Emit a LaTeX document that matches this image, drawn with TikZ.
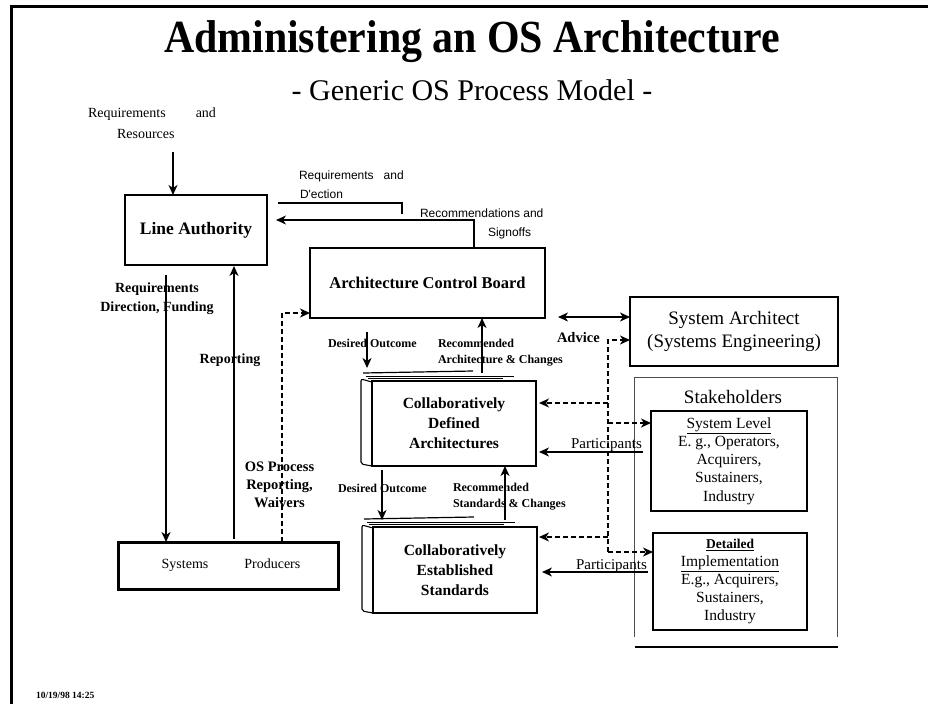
\documentclass[tikz,border=0pt]{standalone}
\usepackage{fontspec}
\setmainfont{Liberation Serif}
\newfontfamily\labelsans{Liberation Sans}
\usetikzlibrary{arrows.meta,calc}
\newcommand\fsz[2]{\fontsize{#1}{#2}\selectfont}

\begin{document}
\begin{tikzpicture}[x=1pt,y=-1pt,
  >={Stealth[length=10pt,width=9pt,inset=3pt]},
  every node/.style={inner sep=0pt, outer sep=0pt},
  box/.style={draw, line width=1.9pt, align=center},
  flow/.style={->, line width=1.6pt},
  dflow/.style={->, line width=1.4pt, dash pattern=on 5pt off 3pt},
  lbl/.style={font=\fsz{14}{19}\bfseries, align=center},
  sml/.style={font=\fsz{12}{16}\bfseries, align=left},
  sanslbl/.style={font=\labelsans\fsz{12}{16}},
  sheet/.style={line width=1.1pt, rounded corners=2pt}]

\useasboundingbox (0,0) rectangle (928,704);

% page frame
\draw[line width=3pt] (11,704) -- (11,6) -- (928,6);

% headings
\node[font=\fsz{46}{54}\bfseries, anchor=base] (title) at (472,52) {\scalebox{0.91}[1]{Administering an OS Architecture}};
\node[font=\fsz{30}{36}, anchor=base] (subtitle) at (472,100) {- Generic OS Process Model -};

% boxes
\node[box, minimum width=142pt, minimum height=70pt, font=\fsz{17.5}{21}\bfseries] (la) at (196,230) {\raisebox{-3pt}{Line Authority}};
\node[box, minimum width=235pt, minimum height=70pt, font=\fsz{16.5}{20}\bfseries] (acb) at (427.5,283) {Architecture Control Board};
\node[box, line width=3pt, minimum width=220pt, minimum height=47pt, font=\fsz{14}{17}] (sp) at (228,565.5) {\hspace{6pt}Systems\hspace{36pt}Producers};
\node[box, minimum width=164pt, minimum height=85pt, font=\fsz{15.5}{20}\bfseries] (cda) at (454,423.5) {Collaboratively\\Defined\\Architectures};
\node[box, minimum width=164pt, minimum height=86pt, font=\fsz{15.5}{20}\bfseries] (ces) at (455,570) {Collaboratively\\Established\\Standards};
\node[box, minimum width=208pt, minimum height=69pt, font=\fsz{19}{23}] (sa) at (734,331.5) {System Architect\\(Systems Engineering)};

% stacked sheets behind the two collaborative boxes
\foreach \b in {cda,ces}{
  \draw[sheet] ($(\b.north west)+(0,1)$) -- ++(-11,-3) -- ($(\b.south west)+(-11,-2)$) -- (\b.south west);
  \draw[line width=1.2pt] ($(\b.north west)+(-9,-8)$) -- ++(110,-2);
  \draw[line width=1.0pt] ($(\b.north west)+(-6,-5)$) -- ++(148,0);
  \draw[line width=1.0pt] ($(\b.north west)+(-4,-3)$) -- ++(135,0);
}

% stakeholders panel
\draw[line width=0.8pt, black!70] (634,637) -- (634,377) -- (837,377) -- (837,637);
\draw[line width=2.5pt] (635,647) -- (838,647);
\node[font=\fsz{19}{23}, anchor=base] (stk) at (733,403) {Stakeholders};
\node[box, line width=1.6pt, minimum width=156pt, minimum height=100pt, font=\fsz{15.5}{18.2}] (sl) at (729,461)
  {\underline{System Level}\\E. g., Operators,\\Acquirers,\\Sustainers,\\Industry};
\node[box, line width=1.6pt, minimum width=154pt, minimum height=97pt, font=\fsz{15.5}{18}] (di) at (730,581.5)
  {{\fsz{13.5}{18}\bfseries\underline{Detailed}}\\\underline{Implementation}\\E.g., Acquirers,\\Sustainers,\\Industry};

% inputs to line authority
\node[font=\fsz{14}{21}, anchor=base west] (rrA) at (88,117) {Requirements\hspace{30pt}and};
\node[font=\fsz{14}{21}, anchor=base west] (rrB) at (117,138) {Resources};
\coordinate (rrin) at (173,152);
\draw[flow] (rrin) -- (rrin |- la.north);

% line authority <-> architecture control board
\coordinate (rdB) at (402,203);
\coordinate (rdC) at (402,214);
\draw[line width=1.6pt, shorten <=11pt] (la.east |- rdB) -- (rdB) -- (rdC);
\coordinate (rsTurn) at (474,220);
\draw[flow, shorten >=9pt] (rsTurn |- acb.north) -- (rsTurn) -- (la.east |- rsTurn);
\node[sanslbl, anchor=base west] (rdLbl1) at (299,179) {Requirements\hspace{10pt}and};
\node[sanslbl, anchor=base west] (rdLbl2) at (300,198) {D'ection};
\node[sanslbl, anchor=base west] (rsLbl1) at (420,217) {Recommendations and};
\node[sanslbl, anchor=base west] (rsLbl2) at (488,236) {Signoffs};

% line authority <-> systems producers
\coordinate (fundTop) at (166,275);
\draw[flow] (fundTop) -- (fundTop |- sp.north);
\coordinate (repX) at (234,400);
\draw[flow, shorten <=3pt, shorten >=1pt] (sp.north -| repX) -- (la.south -| repX);
\node[lbl] (fundLbl) at (157,299) {Requirements\\Direction, Funding};
\node[lbl, anchor=base] (repLbl) at (230,363) {Reporting};

% process reporting to the board
\coordinate (osX) at (282,313);
\draw[dflow] (sp.north -| osX) -- (osX) -- (acb.west |- osX);
\node[lbl, font=\fsz{14.5}{18}\bfseries] (osLbl) at (279.5,484.5) {OS Process\\Reporting,\\Waivers};

% board <-> defined architectures
\coordinate (do1a) at (367,332);
\coordinate (do1b) at (367,368);
\draw[flow] (do1a) -- (do1b);
\coordinate (ra1a) at (482,373);
\draw[flow] (ra1a) -- (ra1a |- acb.south);
\node[sml, anchor=base west] (do1Lbl) at (328,347) {Desired Outcome};
\node[sml, anchor=west] (ra1Lbl) at (438,352.4) {Recommended\\Architecture \& Changes};

% defined architectures <-> established standards
\coordinate (do2a) at (382,470);
\coordinate (do2b) at (382,520);
\draw[flow] (do2a) -- (do2b);
\coordinate (ra2a) at (505,520);
\draw[flow] (ra2a) -- (ra2a |- cda.south);
\node[sml, anchor=base west] (do2Lbl) at (338,492) {Desired Outcome};
\node[sml, anchor=west] (ra2Lbl) at (453,496.4) {Recommended\\Standards \& Changes};

% advice
\coordinate (adv) at (558,317);
\draw[<->, line width=1.6pt] (adv) -- (sa.west |- adv);
\node[font=\fsz{14.5}{18}\bfseries, anchor=base west] (advLbl) at (557,342) {Advice};

% system architect distribution (dashed)
\coordinate (dTop) at (608,340);
\coordinate (b1) at (608,403);
\coordinate (b2) at (608,423);
\coordinate (b3) at (608,537);
\coordinate (b4) at (608,552);
\draw[dflow] (b4) -- (dTop) -- (sa.west |- dTop);
\draw[dflow, shorten >=3pt] (b1) -- (cda.east |- b1);
\draw[dflow] (b2) -- (sl.west |- b2);
\draw[dflow, shorten >=2pt] (b3) -- (ces.east |- b3);
\draw[dflow] (b4) -- (di.west |- b4);

% participants
\coordinate (p1) at (643,452);
\draw[flow, shorten >=3pt] (p1) -- (cda.east |- p1);
\node[font=\fsz{15}{18}, anchor=base west] (part1) at (571,448) {Participants};
\coordinate (p2) at (648,572);
\draw[flow, shorten >=5pt] (p2) -- (ces.east |- p2);
\node[font=\fsz{15}{18}, anchor=base west] (part2) at (576,569) {Participants};

% date stamp
\node[font=\fsz{9.5}{12}\bfseries, anchor=base west] (stamp) at (36,698) {10/19/98 14:25};
\end{tikzpicture}
\end{document}
